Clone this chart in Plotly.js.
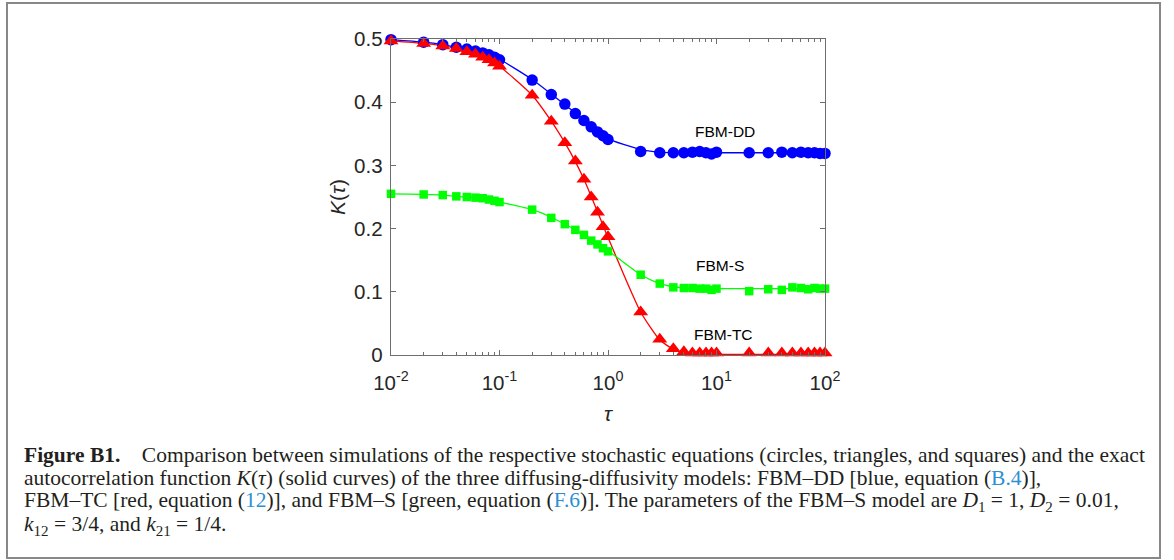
<!DOCTYPE html>
<html>
<head>
<meta charset="utf-8">
<script src="https://cdn.plot.ly/plotly-3.0.1.min.js"></script>
<style>
html,body{margin:0;padding:0;background:#fff;}
#chart{width:1174px;height:560px;}
</style>
</head>
<body>
<div id="chart"></div>
<script>
// ---- data ----
var tau = [0.01,0.02,0.03,0.04,0.05,0.06,0.07,0.08,0.09,0.1,
           0.2,0.3,0.4,0.5,0.6,0.7,0.8,0.9,1,
           2,3,4,5,6,7,8,9,10,
           20,30,40,50,60,70,80,90,100];

// simulations (markers)
var simDD = [0.499,0.495,0.491,0.487,0.484,0.481,0.478,0.475,0.471,0.467,
             0.435,0.412,0.397,0.382,0.371,0.361,0.353,0.347,0.341,
             0.322,0.320,0.320,0.320,0.321,0.322,0.320,0.318,0.321,
             0.320,0.320,0.321,0.320,0.321,0.320,0.320,0.319,0.319];
var simTC = [0.497,0.493,0.489,0.485,0.480,0.476,0.471,0.467,0.462,0.457,
             0.411,0.370,0.336,0.307,0.278,0.250,0.226,0.203,0.187,
             0.068,0.025,0.010,0.005,0.003,0.003,0.003,0.003,0.003,
             0.003,0.003,0.003,0.003,0.003,0.003,0.003,0.003,0.003];
var simS  = [0.255,0.254,0.253,0.251,0.250,0.249,0.248,0.246,0.244,0.242,
             0.230,0.217,0.207,0.198,0.190,0.181,0.175,0.169,0.164,
             0.127,0.113,0.107,0.106,0.106,0.105,0.105,0.103,0.105,
             0.101,0.104,0.103,0.107,0.106,0.104,0.106,0.105,0.105];

// exact autocorrelation (solid curves), read at the same tau values
var exactDD = [0.499,0.495,0.491,0.487,0.484,0.481,0.478,0.475,0.471,0.468,
               0.436,0.413,0.396,0.383,0.372,0.363,0.355,0.348,0.342,
               0.325,0.321,0.320,0.320,0.320,0.320,0.320,0.320,0.320,
               0.320,0.320,0.320,0.320,0.320,0.320,0.320,0.320,0.320];
var exactTC = [0.497,0.493,0.489,0.485,0.480,0.476,0.471,0.467,0.462,0.457,
               0.411,0.370,0.336,0.306,0.278,0.251,0.227,0.205,0.186,
               0.068,0.024,0.009,0.004,0.002,0.001,0.001,0.001,0.001,
               0.001,0.001,0.001,0.001,0.001,0.001,0.001,0.001,0.001];
var exactS  = [0.255,0.254,0.253,0.251,0.250,0.249,0.247,0.246,0.244,0.242,
               0.230,0.218,0.207,0.198,0.189,0.182,0.176,0.170,0.165,
               0.127,0.113,0.108,0.106,0.105,0.105,0.105,0.105,0.105,
               0.105,0.105,0.105,0.105,0.105,0.105,0.105,0.105,0.105];

// tick labels
var xMajorVals = [0.01,0.1,1,10,100];
var xMajorText = ['10<sup>-2</sup>','10<sup>-1</sup>','10<sup>0</sup>','10<sup>1</sup>','10<sup>2</sup>'];
var xMinorVals = [0.02,0.03,0.04,0.05,0.06,0.07,0.08,0.09,
                  0.2,0.3,0.4,0.5,0.6,0.7,0.8,0.9,
                  2,3,4,5,6,7,8,9,
                  20,30,40,50,60,70,80,90];
var yTickVals = [0,0.1,0.2,0.3,0.4,0.5];
var yTickText = ['0','0.1','0.2','0.3','0.4','0.5'];

var curveLabels = ['FBM-DD','FBM-S','FBM-TC'];
var labelX = [12, 10.8, 11.5];
var labelY = [0.354, 0.141, 0.032];

var captionLines = [
  '<b>Figure B1.</b>\u2003Comparison between simulations of the respective stochastic equations (circles, triangles, and squares) and the exact',
  'autocorrelation function <i>K</i>(<i>τ</i>) (solid curves) of the three diffusing-diffusivity models: FBM\u2013DD [blue, equation (<span style="color:#2b8fd4">B.4</span>)],',
  'FBM\u2013TC [red, equation (<span style="color:#2b8fd4">12</span>)], and FBM\u2013S [green, equation (<span style="color:#2b8fd4">F.6</span>)]. The parameters of the FBM\u2013S model are <i>D</i><sub>1</sub> = 1, <i>D</i><sub>2</sub> = 0.01,',
  '<i>k</i><sub>12</sub> = 3/4, and <i>k</i><sub>21</sub> = 1/4.'
];
var captionYpx = [455, 478, 501, 525];

// ---- figure ----
var W = 1174, H = 560;
var BLUE = '#0000ff', RED = '#ff0000', GREEN = '#00ff00';

var traces = [
  {x: tau, y: exactDD, mode: 'lines', line: {color: BLUE, width: 1.3, shape: 'spline', smoothing: 0.6}, hoverinfo: 'skip'},
  {x: tau, y: exactTC, mode: 'lines', line: {color: RED, width: 1.3, shape: 'spline', smoothing: 0.6}, hoverinfo: 'skip'},
  {x: tau, y: exactS,  mode: 'lines', line: {color: GREEN, width: 1.3, shape: 'spline', smoothing: 0.6}, hoverinfo: 'skip'},
  {x: tau, y: simDD, mode: 'markers', marker: {symbol: 'circle', size: 11.5, color: BLUE}, cliponaxis: false},
  {x: tau, y: simTC, mode: 'markers', marker: {symbol: 'triangle-up', size: 13, color: RED}, cliponaxis: false},
  {x: tau, y: simS,  mode: 'markers', marker: {symbol: 'square', size: 8.5, color: GREEN}, cliponaxis: false}
];

var annotations = [];
for (var i = 0; i < curveLabels.length; i++) {
  annotations.push({x: Math.log10(labelX[i]), y: labelY[i], xref: 'x', yref: 'y', text: curveLabels[i],
    showarrow: false, xanchor: 'center', yanchor: 'middle',
    font: {family: 'Liberation Sans, Arial, sans-serif', size: 15.5, color: '#000'}});
}
for (var j = 0; j < captionLines.length; j++) {
  annotations.push({x: 22 / W, y: 1 - captionYpx[j] / H, xref: 'paper', yref: 'paper', text: captionLines[j],
    showarrow: false, xanchor: 'left', yanchor: 'middle', align: 'left',
    font: {family: 'Liberation Serif, Times New Roman, serif', size: 21.5, color: '#231f20'}});
}

var axisColor = '#6e6e6e';
var layout = {
  width: W, height: H,
  margin: {l: 0, r: 0, t: 0, b: 0},
  paper_bgcolor: '#ffffff', plot_bgcolor: '#ffffff',
  showlegend: false,
  font: {family: 'Liberation Sans, Arial, sans-serif', color: '#262626'},
  xaxis: {
    type: 'log', range: [-2, 2], domain: [391 / W, 825 / W],
    tickmode: 'array', tickvals: xMajorVals, ticktext: xMajorText,
    ticks: 'inside', ticklen: 5, tickwidth: 1, tickcolor: axisColor,
    minor: {tickmode: 'array', tickvals: xMinorVals, ticks: 'inside', ticklen: 3, tickcolor: axisColor, showgrid: false},
    showline: true, linecolor: axisColor, linewidth: 1.3, mirror: 'allticks',
    showgrid: false, zeroline: false,
    tickfont: {size: 20.5, color: '#262626'}, ticklabelstandoff: 9,
    title: {text: '<i>τ</i>', font: {size: 21, family: 'Liberation Sans, Arial, sans-serif', color: '#262626'}, standoff: 13}
  },
  yaxis: {
    range: [0, 0.5], domain: [1 - 355 / H, 1 - 39 / H],
    tickmode: 'array', tickvals: yTickVals, ticktext: yTickText,
    ticks: 'inside', ticklen: 5, tickwidth: 1, tickcolor: axisColor,
    showline: true, linecolor: axisColor, linewidth: 1.3, mirror: 'allticks',
    showgrid: false, zeroline: false,
    tickfont: {size: 20.5, color: '#262626'}, ticklabelstandoff: 3,
    title: {text: '<i>K</i>(<i>τ</i>)', font: {size: 21, color: '#262626'}, standoff: 2}
  },
  shapes: [{type: 'rect', xref: 'paper', yref: 'paper', x0: 7 / W, x1: 1160 / W, y0: 1 - 558 / H, y1: 1 - 3 / H,
    line: {color: '#888888', width: 2}, fillcolor: 'rgba(0,0,0,0)'}],
  annotations: annotations
};

Plotly.newPlot('chart', traces, layout, {staticPlot: true, displayModeBar: false});
</script>
</body>
</html>
